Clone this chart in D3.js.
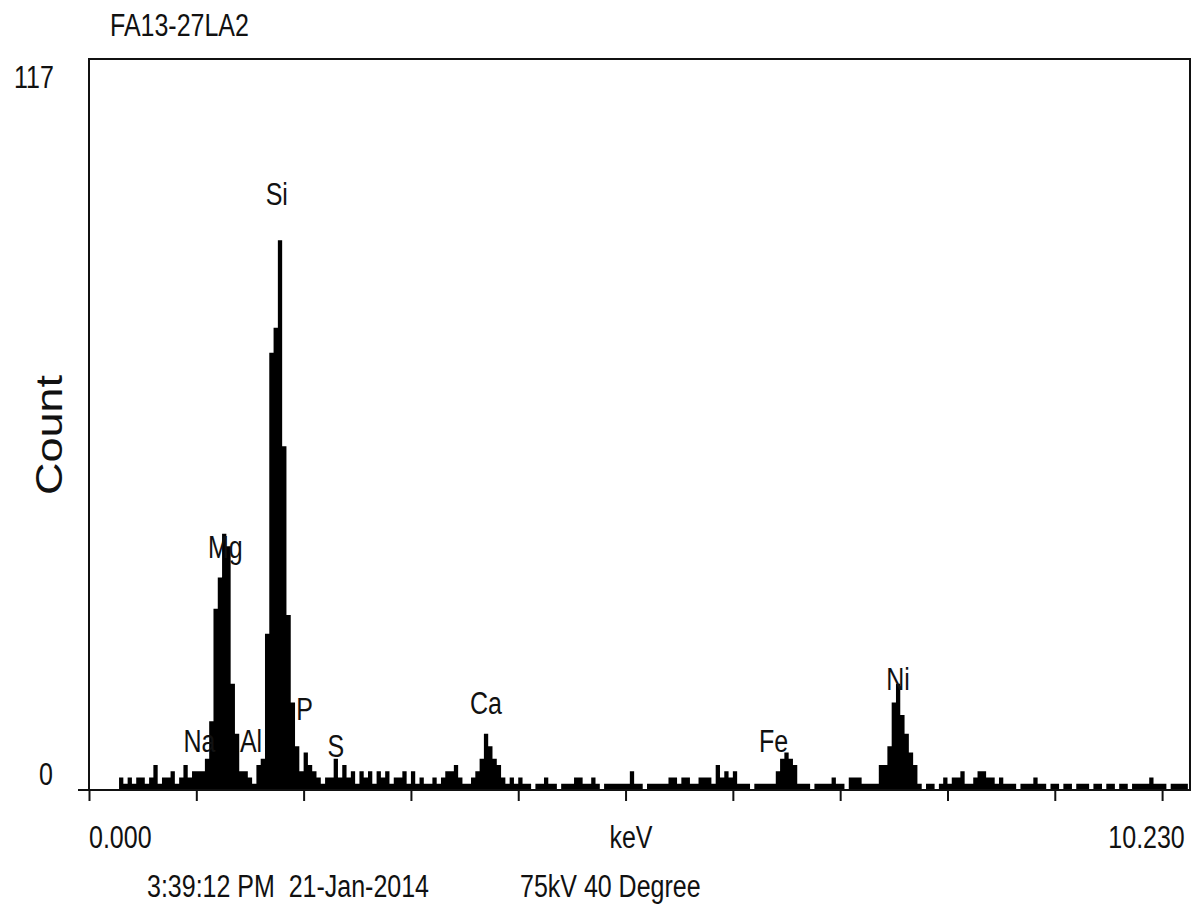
<!DOCTYPE html>
<html>
<head>
<meta charset="utf-8">
<script src="https://cdn.jsdelivr.net/npm/d3@7"></script>
<style>
  body { margin: 0; background: #fff; }
  text { font-family: "Liberation Sans", Arial, sans-serif; fill: #111; }
</style>
</head>
<body>
<svg width="1200" height="907"></svg>
<script>
// EDS spectrum, 0.04 keV per channel, counts
const binKeV = 0.04;
const counts = [
  0, 0, 0, 0, 0, 0, 0,                                  // 0-6
  2, 1, 2, 1, 2, 2, 1, 2, 4, 1, 2, 2, 3, 1, 2, 4, 2, 3, 3, 3, // 7-26
  5, 11, 29, 34, 41, 39, 17, 9, 3,                      // 27-35 Mg
  3, 2, 1, 4, 5,                                        // 36-40
  25, 70, 74, 88, 55, 28, 14, 7, 3,                     // 41-49 Si
  6, 4, 3, 2, 1, 2, 2, 5, 2, 4, 2,                      // 50-60
  3, 1, 3, 2, 3, 1, 3, 2, 3, 1,                         // 61-70
  2, 2, 3, 1, 3, 1, 2, 1, 1, 2,                         // 71-80
  1, 2, 3, 3, 4, 2, 1, 1, 2, 3,                         // 81-90
  5, 9, 7, 5, 4, 2, 1, 2, 1, 2,                         // 91-100 Ca
  1, 1, 0, 1, 1, 2, 1, 1, 0, 1,                         // 101-110
  1, 1, 2, 2, 1, 1, 2, 1, 0, 1,                         // 111-120
  1, 1, 1, 1, 1, 3, 1, 1, 0, 1,                         // 121-130
  1, 1, 1, 1, 2,                                        // 131-135
  2, 1, 2, 2, 1, 1, 2, 2, 2, 1,                         // 136-145
  4, 2, 3, 2, 3, 1, 1, 1, 0, 1,                         // 146-155
  1, 1, 1, 1, 3, 5, 6, 5, 4, 1,                         // 156-165 Fe
  1, 1, 0, 1, 1,                                        // 166-170
  1, 1, 2, 1, 1, 0, 2, 2, 2, 1, 1, 1, 1,                // 171-183
  4, 4, 7, 14, 17, 12, 9, 6, 4, 1, 0, 1,                // 184-195 Ni
  1, 0, 1, 2, 1, 2, 2, 3, 1, 1,                         // 196-205
  2, 3, 3, 2, 2, 1, 2, 1, 1, 1,                         // 206-215
  0, 1, 1, 1, 2, 1, 1, 0, 1, 1,                         // 216-225
  0, 1, 1, 0, 1, 1, 1, 0, 1, 1,                         // 226-235
  0, 1, 1, 0, 1, 1, 0, 1, 1, 1,                         // 236-245
  1, 2, 1, 1, 1, 0, 1, 1, 1, 1                          // 246-255
];

const elements = ["Na", "Mg", "Al", "Si", "P", "S", "Ca", "Fe", "Ni"];
const elementKeV = [1.03, 1.27, 1.51, 1.75, 2.01, 2.30, 3.70, 6.38, 7.54];
const elementCount = [6.1, 37.1, 6.1, 93.6, 11.2, 5.3, 12.2, 6.1, 16.0];

const xTicks = [0, 1, 2, 3, 4, 5, 6, 7, 8, 9, 10];
const xMinLabel = "0.000";
const xMaxLabel = "10.230";
const yMinLabel = "0";
const yMaxLabel = "117";
const yMax = 117;
const sampleName = "FA13-27LA2";
const timeStamp = "3:39:12 PM  21-Jan-2014";
const conditions = "75kV 40 Degree";

const svg = d3.select("svg");
const plotLeft = 89, plotRight = 1190, plotTop = 59, plotBottom = 790;

const x = d3.scaleLinear().domain([0, 10.26]).range([plotLeft, plotRight]);
const y = d3.scaleLinear().domain([0, yMax]).range([plotBottom, plotTop]);

// text is drawn a bit taller than wide, like the original print
function label(px, py, str, size, anchor) {
  svg.append("text")
    .attr("transform", "translate(" + px + "," + py + ") scale(1,1.25)")
    .attr("text-anchor", anchor || "start")
    .style("font-size", size + "px")
    .style("white-space", "pre")
    .text(str);
}

// spectrum
const pts = counts.map((c, i) => ({ e: i * binKeV, c: c }));
pts.push({ e: counts.length * binKeV, c: 0 });

const area = d3.area()
  .x((d) => x(d.e))
  .y0(y(0))
  .y1((d) => y(d.c))
  .curve(d3.curveStepAfter);

svg.append("path")
  .datum(pts)
  .attr("d", area)
  .attr("fill", "#000");

// frame
svg.append("rect")
  .attr("x", plotLeft)
  .attr("y", plotTop)
  .attr("width", plotRight - plotLeft)
  .attr("height", plotBottom - plotTop)
  .attr("fill", "none")
  .attr("stroke", "#111")
  .attr("stroke-width", 2);

svg.append("line")
  .attr("x1", plotLeft - 11).attr("x2", plotLeft)
  .attr("y1", y(0)).attr("y2", y(0))
  .attr("stroke", "#111").attr("stroke-width", 2);

const xAxis = d3.axisBottom(x).tickValues(xTicks).tickSize(11).tickFormat("");
const ax = svg.append("g")
  .attr("transform", "translate(0," + plotBottom + ")")
  .call(xAxis);
ax.select(".domain").remove();
ax.selectAll(".tick line").attr("stroke", "#111").attr("stroke-width", 2);

// axis texts
label(x(0), 848, xMinLabel, 25, "start");
label(x(10.23) - 2, 848, xMaxLabel, 25, "end");
label(x(5.05), 848, "keV", 25, "middle");
label(14, 88, yMaxLabel, 25, "start");
label(53, 785, yMinLabel, 25, "end");

svg.append("text")
  .attr("transform", "translate(62,435) scale(1,1.25) rotate(-90)")
  .attr("text-anchor", "middle")
  .style("font-size", "36px")
  .text("Count");

label(110, 36, sampleName, 25, "start");
label(147, 897, timeStamp, 25, "start");
label(520, 897, conditions, 25, "start");

// element markers
elements.forEach((el, i) => {
  label(x(elementKeV[i]), y(elementCount[i]), el, 25, "middle");
});
</script>
</body>
</html>
